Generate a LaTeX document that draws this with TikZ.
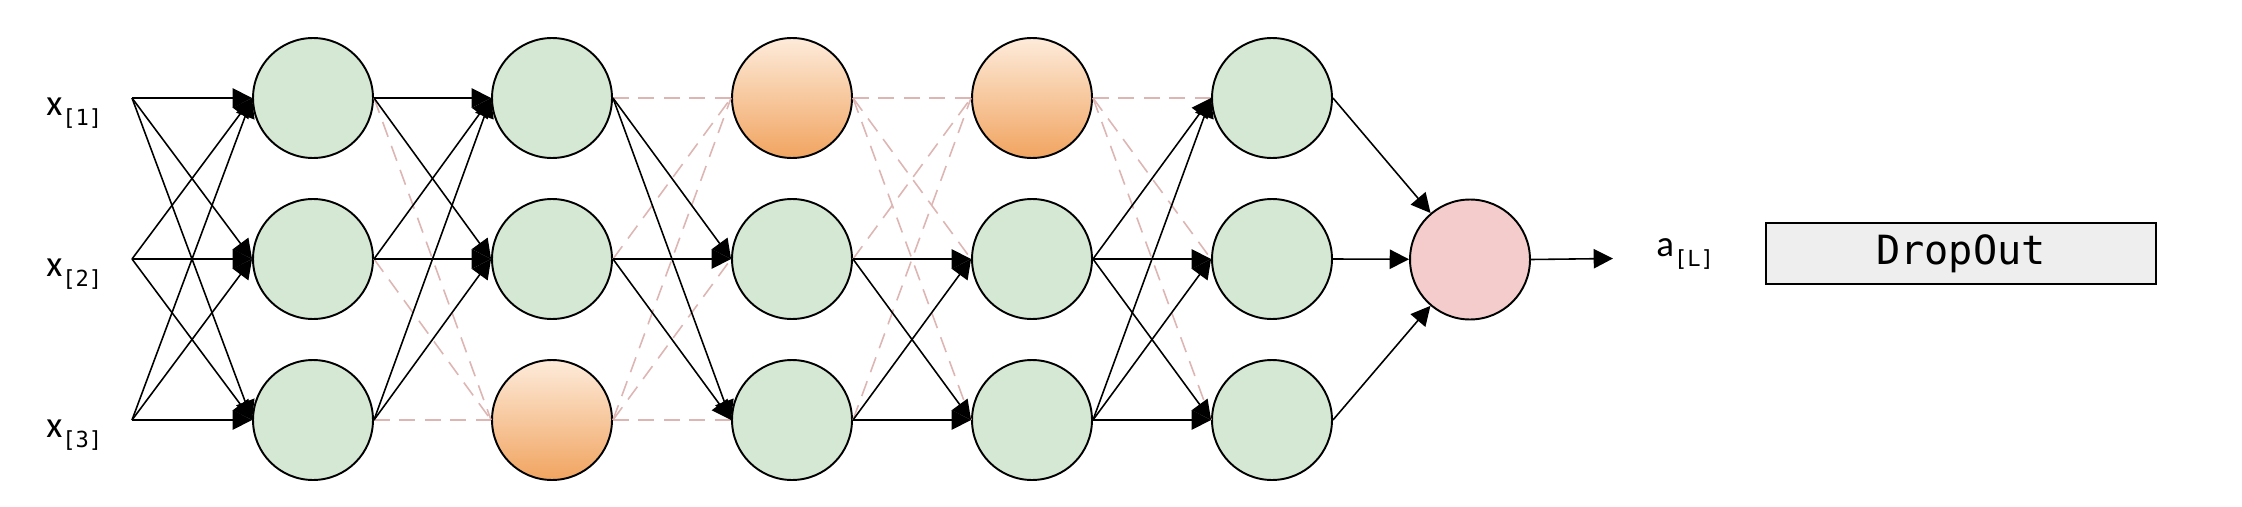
\documentclass[tikz,border=0pt]{standalone}
\usepackage{fontspec}
\setmainfont{Carlito}
\newfontfamily\codefont{DejaVu Sans Mono}
\usepackage{xcolor}
\usepackage{tikz}
\usetikzlibrary{positioning, arrows.meta}
\definecolor{nGreen}{HTML}{D5E8D4}
\definecolor{nPink}{HTML}{F4CCCC}
\definecolor{oTop}{HTML}{FDEBDA}
\definecolor{oBottom}{HTML}{F1A460}
\definecolor{dLine}{HTML}{DDB5B3}
\definecolor{bFill}{HTML}{EEEEEE}
\tikzset{
  neuron/.style={circle, draw=black, line width=1.1pt, minimum size=2.4cm, inner sep=0pt},
  keptnode/.style={neuron, fill=nGreen},
  dropnode/.style={neuron, top color=oTop, bottom color=oBottom},
  outnode/.style={neuron, fill=nPink},
  conn/.style={-{Triangle[length=11pt, width=11pt]}, line width=0.9pt, black},
  dropped/.style={line width=0.9pt, dLine, dash pattern=on 9pt off 5.5pt},
  lbl/.style={anchor=base west, inner sep=0pt, font=\fontsize{21}{24}\selectfont},
}
\newcommand{\idx}[1]{\raisebox{-0.21cm}{\codefont\fontsize{12.6}{14}\selectfont[#1]}}

\begin{document}
\begin{tikzpicture}[x=0.02cm, y=-0.02cm]
  \useasboundingbox (0,0) rectangle (2242,507);
  % inputs
  \node[lbl] (x1) at (46,115) {x\idx{1}};
  \node[lbl] (x2) at (46,276) {x\idx{2}};
  \node[lbl] (x3) at (46,437) {x\idx{3}};
  \coordinate (in1) at (132,98);
  \coordinate (in2) at (132,259);
  \coordinate (in3) at (132,420);
  % hidden layers
  \node[keptnode] (n1-1) at (313,98) {};
  \node[keptnode] (n1-2) at (313,259) {};
  \node[keptnode] (n1-3) at (313,420) {};
  \node[keptnode] (n2-1) at (552,98) {};
  \node[keptnode] (n2-2) at (552,259) {};
  \node[dropnode] (n2-3) at (552,420) {};
  \node[dropnode] (n3-1) at (792,98) {};
  \node[keptnode] (n3-2) at (792,259) {};
  \node[keptnode] (n3-3) at (792,420) {};
  \node[dropnode] (n4-1) at (1032,98) {};
  \node[keptnode] (n4-2) at (1032,259) {};
  \node[keptnode] (n4-3) at (1032,420) {};
  \node[keptnode] (n5-1) at (1272,98) {};
  \node[keptnode] (n5-2) at (1272,259) {};
  \node[keptnode] (n5-3) at (1272,420) {};
  % output
  \node[outnode] (out) at (1470,259.5) {};
  \coordinate (aout) at (1613,258.5);
  \node[lbl] (aL) at (1656,256) {a\idx{L}};
  \node[draw=black, line width=1pt, fill=bFill, minimum width=7.8cm, minimum height=1.22cm,
    font=\codefont\fontsize{22.9}{26}\selectfont] (box) at (1961,253.5) {DropOut};

  % dropped connections
  \foreach \i in {1,2,3} \draw[dropped] (n1-\i.east) -- (n2-3.west);
  \foreach \i in {1,2} \draw[dropped] (n2-\i.east) -- (n3-1.west);
  \foreach \j in {1,2,3} \draw[dropped] (n2-3.east) -- (n3-\j.west);
  \foreach \j in {1,2,3} \draw[dropped] (n3-1.east) -- (n4-\j.west);
  \foreach \i in {2,3} \draw[dropped] (n3-\i.east) -- (n4-1.west);
  \foreach \j in {1,2,3} \draw[dropped] (n4-1.east) -- (n5-\j.west);

  % kept connections
  \foreach \i in {1,2,3} {
    \foreach \j in {1,2,3} \draw[conn] (in\i) -- (n1-\j.west);
    \draw[conn] (n1-\i.east) -- (n2-1.west);
    \draw[conn] (n1-\i.east) -- (n2-2.west);
    \draw[conn] (n5-\i.east) -- (out);
  }
  \foreach \i in {1,2} {
    \draw[conn] (n2-\i.east) -- (n3-2.west);
    \draw[conn] (n2-\i.east) -- (n3-3.west);
  }
  \foreach \i in {2,3} {
    \draw[conn] (n3-\i.east) -- (n4-2.west);
    \draw[conn] (n3-\i.east) -- (n4-3.west);
    \foreach \j in {1,2,3} \draw[conn] (n4-\i.east) -- (n5-\j.west);
  }
  \draw[conn] (out.east) -- (aout);
\end{tikzpicture}
\end{document}
